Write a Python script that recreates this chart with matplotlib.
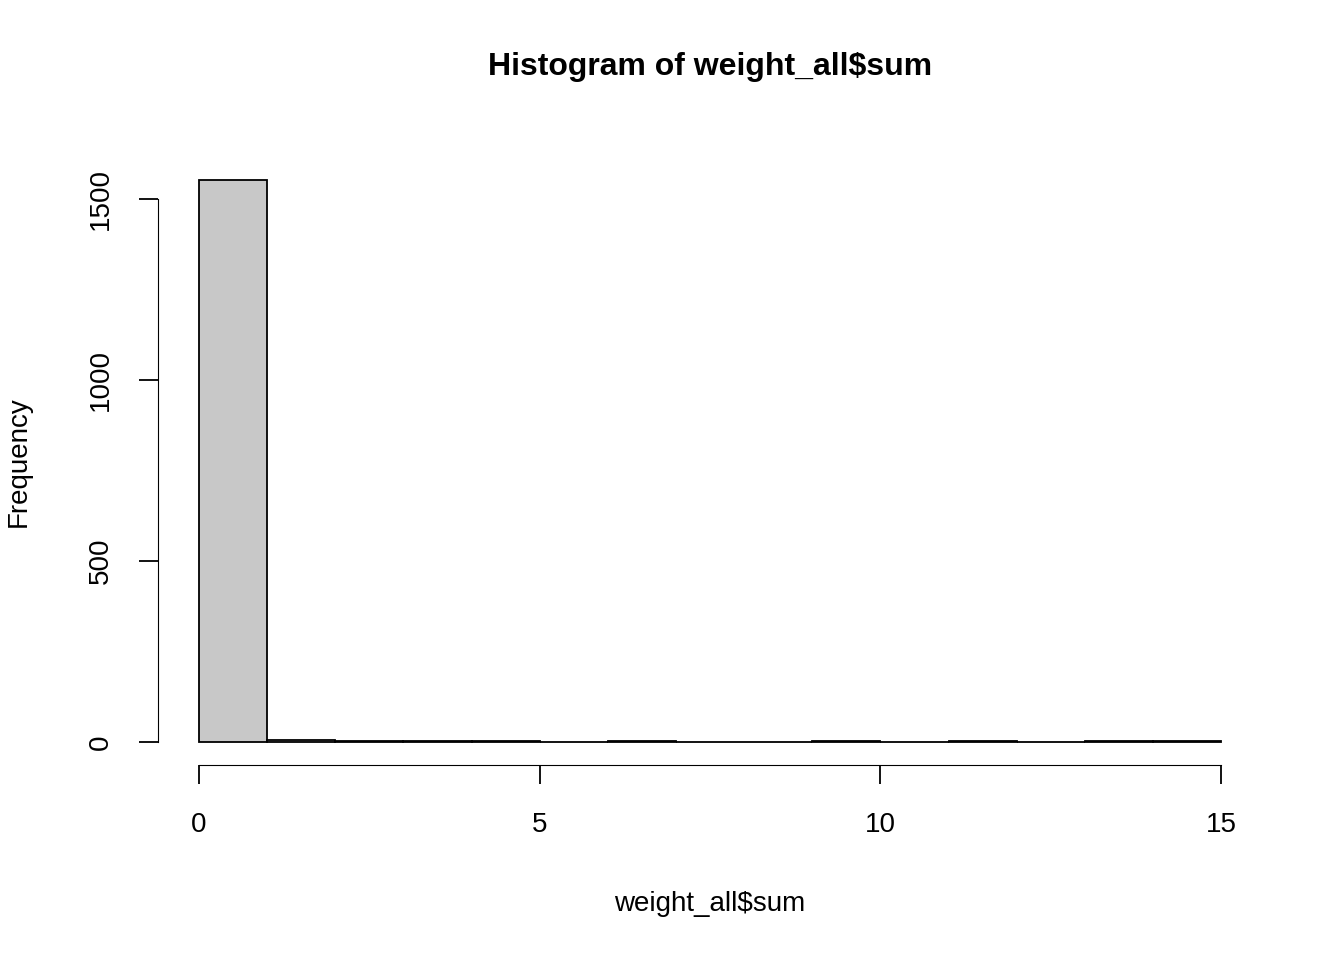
import numpy as np
import matplotlib
matplotlib.use("Agg")
import matplotlib.pyplot as plt

plt.rcParams['font.family'] = ['Liberation Sans', 'DejaVu Sans']

bin_edges = np.arange(0, 16, 1)
counts = [1552, 5, 2, 2, 2, 0, 2, 1, 0, 2, 1, 2, 0, 2, 2]

fig = plt.figure(figsize=(13.44, 9.6), dpi=100)
ax = fig.add_axes([0.1176, 0.2036, 0.8214, 0.6318])
ax.bar(bin_edges[:-1], counts, width=1, align='edge', color='#c8c8c8',
       edgecolor='black', linewidth=1.3)

ax.set_xlim(-0.6, 15.6)
ax.set_ylim(-62, 1614)
for s in ['top', 'right']:
    ax.spines[s].set_visible(False)
ax.spines['left'].set_bounds(0, 1500)
ax.spines['bottom'].set_bounds(0, 15)
ax.set_xticks([0, 5, 10, 15])
ax.set_yticks([0, 500, 1000, 1500])
ax.set_yticklabels(['0', '500', '1000', '1500'], rotation=90, va='center')
ax.tick_params(labelsize=20, length=14, width=1.3)
ax.tick_params(axis='x', pad=20)
ax.tick_params(axis='y', pad=18)

ax.set_xlabel('weight_all$sum', fontsize=20, labelpad=38)
ax.set_ylabel('Frequency', fontsize=20, labelpad=40)
ax.set_title('Histogram of weight_all$sum', fontsize=23, fontweight='bold', pad=60)

fig.savefig('out.png', dpi=100)
